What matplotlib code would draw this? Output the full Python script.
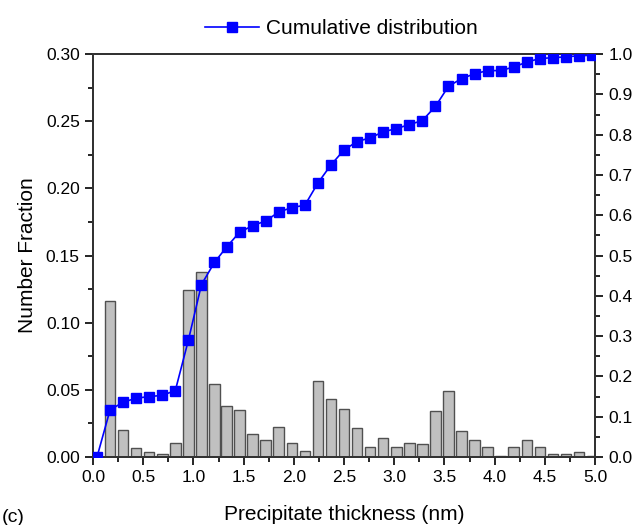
import matplotlib
matplotlib.use("Agg")
import matplotlib.pyplot as plt
from matplotlib.ticker import MultipleLocator, FormatStrFormatter

plt.rcParams['font.family'] = ['Liberation Sans', 'DejaVu Sans']

# bin centres (nm)
thickness = [0.04, 0.17, 0.30, 0.43, 0.56, 0.69, 0.82, 0.95, 1.08, 1.21,
             1.33, 1.46, 1.59, 1.72, 1.85, 1.98, 2.11, 2.24, 2.37, 2.50,
             2.63, 2.76, 2.89, 3.02, 3.15, 3.28, 3.41, 3.54, 3.67, 3.80,
             3.93, 4.06, 4.19, 4.32, 4.45, 4.58, 4.71, 4.84, 4.97]

# number fraction per bin (left axis)
fraction = [0.000, 0.116, 0.020, 0.0065, 0.004, 0.0022, 0.0107, 0.1245, 0.138, 0.0545,
            0.0378, 0.0349, 0.0168, 0.0123, 0.022, 0.0106, 0.0046, 0.0567, 0.0433, 0.036,
            0.0217, 0.0076, 0.014, 0.0076, 0.0106, 0.0095, 0.0344, 0.0493, 0.019, 0.0123,
            0.0076, 0.0006, 0.0076, 0.0123, 0.0076, 0.0025, 0.0025, 0.0036, 0.0006]

# cumulative distribution (right axis)
cumulative = [0.000, 0.117, 0.136, 0.146, 0.150, 0.153, 0.165, 0.290, 0.428, 0.483,
              0.521, 0.558, 0.574, 0.586, 0.608, 0.619, 0.625, 0.680, 0.725, 0.762,
              0.783, 0.792, 0.807, 0.815, 0.825, 0.835, 0.870, 0.920, 0.939, 0.951,
              0.959, 0.959, 0.968, 0.980, 0.989, 0.991, 0.993, 0.996, 0.997]

fig = plt.figure(figsize=(6.44, 5.25), dpi=100)
ax = fig.add_axes([0.1444, 0.1295, 0.7796, 0.7675])

ax.bar(thickness, fraction, width=0.105, color='#c0c0c0', edgecolor='#505050',
       linewidth=1.0, zorder=2)
ax.set_xlim(0, 5)
ax.set_ylim(0, 0.30)
ax.xaxis.set_major_locator(MultipleLocator(0.5))
ax.xaxis.set_minor_locator(MultipleLocator(0.25))
ax.yaxis.set_major_locator(MultipleLocator(0.05))
ax.yaxis.set_minor_locator(MultipleLocator(0.025))
ax.xaxis.set_major_formatter(FormatStrFormatter('%.1f'))
ax.yaxis.set_major_formatter(FormatStrFormatter('%.2f'))
ax.tick_params(which='both', direction='out', labelsize=12.5, width=1.2, top=False, right=False)
ax.tick_params(which='major', length=6)
ax.tick_params(which='minor', length=3.5)
ax.set_xlabel('Precipitate thickness (nm)', fontsize=15, labelpad=14)
ax.set_ylabel('Number Fraction', fontsize=15, labelpad=6)
for s in ax.spines.values():
    s.set_linewidth(1.4)
    s.set_color('#333333')

ax2 = ax.twinx()
line, = ax2.plot(thickness, cumulative, color='#0000ff', marker='s', markersize=7.5,
                 linewidth=1.2, label='Cumulative distribution', zorder=3)
ax2.set_ylim(0, 1.0)
ax2.yaxis.set_major_locator(MultipleLocator(0.1))
ax2.yaxis.set_minor_locator(MultipleLocator(0.05))
ax2.yaxis.set_major_formatter(FormatStrFormatter('%.1f'))
ax2.tick_params(which='both', direction='out', labelsize=12.5, width=1.2)
ax2.tick_params(which='major', length=6)
ax2.tick_params(which='minor', length=3.5)
for s in ax2.spines.values():
    s.set_linewidth(1.4)
    s.set_color('#333333')

fig.legend(handles=[line], loc='center', bbox_to_anchor=(0.53, 0.946), frameon=False,
           fontsize=15, handlelength=2.6, handletextpad=0.3)

fig.text(0.002, 0.005, '(c)', fontsize=14)

fig.savefig('out.png', dpi=100)
